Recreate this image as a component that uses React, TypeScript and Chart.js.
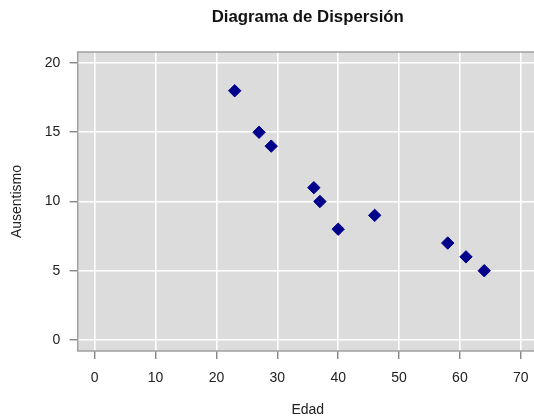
import React, { useEffect, useRef } from "react";
import { Chart, registerables } from "chart.js";

Chart.register(...registerables);

const TITLE = "Diagrama de Dispersión";
const X_LABEL = "Edad";
const Y_LABEL = "Ausentismo";
const edad = [23, 27, 29, 36, 37, 40, 46, 58, 61, 64];
const ausentismo = [18, 15, 14, 11, 10, 8, 9, 7, 6, 5];
const X_MIN = -2.8;
const X_MAX = 72.8;
const Y_MIN = -0.8;
const Y_MAX = 20.8;
const X_STEP = 10;
const Y_STEP = 5;

const FONT = '"Liberation Sans", Arial, Helvetica, sans-serif';

const panelPlugin = {
  id: "panel",
  beforeDraw(chart: any) {
    const { ctx, chartArea: a } = chart;
    ctx.save();
    ctx.fillStyle = "#dcdcdc";
    ctx.fillRect(a.left, a.top, a.right - a.left, a.bottom - a.top);
    ctx.restore();
  },
  afterDraw(chart: any) {
    const { ctx, chartArea: a } = chart;
    ctx.save();
    ctx.strokeStyle = "#a0a0a0";
    ctx.lineWidth = 1.5;
    ctx.strokeRect(a.left, a.top, a.right - a.left, a.bottom - a.top);
    const cx = (a.left + a.right) / 2;
    const cy = (a.top + a.bottom) / 2;
    ctx.fillStyle = "#111111";
    ctx.textAlign = "center";
    ctx.textBaseline = "middle";
    ctx.font = `bold 16.8px ${FONT}`;
    ctx.fillText(TITLE, cx, 17);
    ctx.font = `14px ${FONT}`;
    ctx.fillStyle = "#222222";
    ctx.fillText(X_LABEL, cx, 410);
    ctx.translate(17.5, cy);
    ctx.rotate(-Math.PI / 2);
    ctx.fillText(Y_LABEL, 0, 0);
    ctx.restore();
  },
};

export default function App() {
  const ref = useRef<HTMLCanvasElement | null>(null);
  useEffect(() => {
    if (!ref.current) return;
    const chart = new Chart(ref.current, {
      type: "scatter",
      data: {
        datasets: [
          {
            data: edad.map((x, i) => ({ x, y: ausentismo[i] })),
            pointStyle: "rectRot",
            pointRadius: 6.2,
            pointHoverRadius: 6.2,
            backgroundColor: "#00008b",
            borderColor: "#00008b",
            borderWidth: 1,
          },
        ],
      },
      options: {
        responsive: false,
        animation: false,
        events: [],
        layout: { padding: { left: 0, top: 52, right: 5.2, bottom: 29 } },
        plugins: { legend: { display: false }, tooltip: { enabled: false } },
        scales: {
          x: {
            type: "linear",
            min: X_MIN,
            max: X_MAX,
            afterFit: (s: any) => {
              s.height = 40;
            },
            border: { display: false },
            grid: {
              color: "#ffffff",
              lineWidth: 1.6,
              tickColor: "#555555",
              tickWidth: 1,
              tickLength: 8,
            },
            ticks: {
              stepSize: X_STEP,
              includeBounds: false,
              autoSkip: false,
              padding: 11,
              color: "#222222",
              font: { family: FONT, size: 14 },
              maxRotation: 0,
            },
          },
          y: {
            type: "linear",
            min: Y_MIN,
            max: Y_MAX,
            afterFit: (s: any) => {
              s.width = 77.7;
            },
            border: { display: false },
            grid: {
              color: "#ffffff",
              lineWidth: 1.6,
              tickColor: "#555555",
              tickWidth: 1,
              tickLength: 8,
            },
            ticks: {
              stepSize: Y_STEP,
              includeBounds: false,
              autoSkip: false,
              padding: 9.5,
              color: "#222222",
              font: { family: FONT, size: 14 },
            },
          },
        },
      },
      plugins: [panelPlugin],
    } as any);
    return () => chart.destroy();
  }, []);
  return (
    <div
      style={{
        position: "fixed",
        left: 0,
        top: 0,
        width: 534,
        height: 420,
        overflow: "hidden",
        background: "#ffffff",
      }}
    >
      <canvas ref={ref} width={545} height={420} style={{ width: 545, height: 420, display: "block" }} />
    </div>
  );
}
